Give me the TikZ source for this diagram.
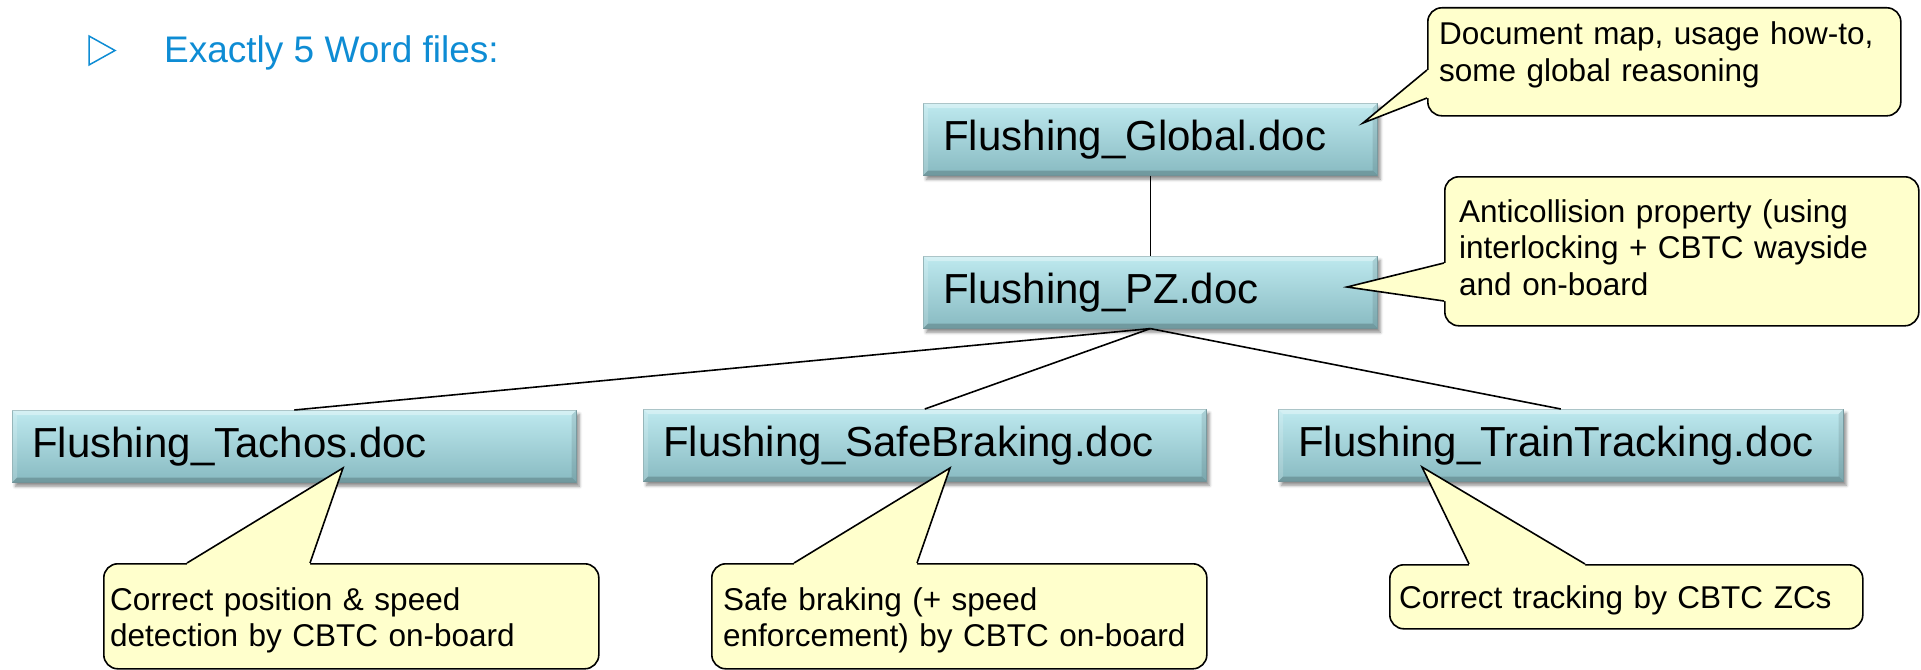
\documentclass[tikz,border=0pt]{standalone}
\usepackage{fontspec}
\setmainfont{Liberation Sans}
\usetikzlibrary{calc,shadows.blur}

\definecolor{headblue}{RGB}{14,140,212}
\definecolor{boxtop}{RGB}{190,233,239}
\definecolor{boxbot}{RGB}{136,186,193}
\definecolor{boxedge}{RGB}{128,166,172}
\definecolor{notefill}{RGB}{255,255,204}

\begin{document}
\begin{tikzpicture}[x=1pt,y=-1pt,
  docbox/.style={rectangle, anchor=north west, top color=boxtop, bottom color=boxbot,
    draw=boxedge, line width=0.6pt, inner xsep=20pt, inner ysep=0pt,
    minimum height=72pt, align=left, font=\fontsize{42}{48}\selectfont,
    blur shadow={shadow xshift=3pt, shadow yshift=-4pt, shadow blur radius=3pt, shadow opacity=45}},
  notebox/.style={rectangle, rounded corners=14pt, anchor=north west, fill=notefill,
    draw=black, line width=1.6pt, inner sep=0pt},
  notetext/.style={anchor=base west, inner sep=0pt, text width=470pt, align=left,
    font=\fontsize{31.5}{36.5}\selectfont},
  pointerline/.style={draw=black, line width=1.6pt, line join=miter},
  link/.style={draw=black, line width=1.6pt}]

\useasboundingbox (0,0) rectangle (1921,669);

% heading bullet and title
\draw[headblue, line width=1.5pt, line join=miter] (89,36) -- (115,50.5) -- (89,65) -- cycle;
\node[anchor=base west, inner sep=0pt, text=headblue, font=\fontsize{37}{41}\selectfont]
  (title) at (164,63) {Exactly 5 Word files:};

% document boxes
\node[docbox, text width=414pt] (glob)  at (923,103) {Flushing\_Global.doc};
\node[docbox, text width=414pt] (pz)    at (923,256) {Flushing\_PZ.doc};
\node[docbox, text width=524pt] (tach)  at (12,410)  {Flushing\_Tachos.doc};
\node[docbox, text width=523pt] (safe)  at (643,409) {Flushing\_SafeBraking.doc};
\node[docbox, text width=525pt] (trk)   at (1278,409) {Flushing\_TrainTracking.doc};

% bevelled edges of the boxes
\foreach \b in {glob,pz,tach,safe,trk} {
  \fill[white, opacity=0.35] (\b.north west) -- (\b.north east)
    -- ([xshift=-5pt,yshift=-5pt]\b.north east) -- ([xshift=5pt,yshift=-5pt]\b.north west) -- cycle;
  \fill[white, opacity=0.18] (\b.north west) -- ([xshift=5pt,yshift=-5pt]\b.north west)
    -- ([xshift=5pt,yshift=5pt]\b.south west) -- (\b.south west) -- cycle;
  \fill[black, opacity=0.10] (\b.north east) -- ([xshift=-5pt,yshift=-5pt]\b.north east)
    -- ([xshift=-5pt,yshift=5pt]\b.south east) -- (\b.south east) -- cycle;
  \fill[black, opacity=0.18] (\b.south west) -- ([xshift=5pt,yshift=5pt]\b.south west)
    -- ([xshift=-5pt,yshift=5pt]\b.south east) -- (\b.south east) -- cycle;
}

% tree connectors
\draw[link] (glob.south) -- (pz.north);
\draw[link] (pz.south) -- (tach.north);
\draw[link] (pz.south) -- (safe.north);
\draw[link] (pz.south) -- (trk.north);

% callout bodies
\node[notebox, minimum width=473pt, minimum height=108pt] (n1) at (1427,7) {};
\node[notebox, minimum width=474pt, minimum height=149pt] (n2) at (1444,176) {};
\node[notebox, minimum width=495pt, minimum height=105pt] (n3) at (103,563) {};
\node[notebox, minimum width=495pt, minimum height=105pt] (n4) at (711,563) {};
\node[notebox, minimum width=473pt, minimum height=64pt]  (n5) at (1389,564) {};

% callout pointers: name / tip / base a / base b / inward shift
\foreach \n/\tx/\ty/\ax/\ay/\bx/\by/\dx/\dy in {
  n1/1363/123/1427/70/1427/98/3/0,
  n2/1347/287/1444/263/1444/301/3/0,
  n3/343/468/187/563/310/563/0/3,
  n4/950/468/794/563/917/563/0/3,
  n5/1422/467/1469/564/1585/564/0/3} {
  \coordinate (\n-tip) at (\tx,\ty);
  \coordinate (\n-a) at (\ax,\ay);
  \coordinate (\n-b) at (\bx,\by);
  \fill[notefill] (\n-a) -- (\n-tip) -- (\n-b) -- ++(\dx,\dy) -- ($(\n-a)+(\dx,\dy)$) -- cycle;
  \draw[pointerline] (\n-a) -- (\n-tip) -- (\n-b);
}

% callout texts
\node[notetext] (n1text) at (1439,45) {Document map, usage how-to,\\some global reasoning};
\node[notetext] (n2text) at (1459,222) {Anticollision property (using\\interlocking + CBTC wayside\\and on-board};
\node[notetext] (n3text) at (110,610) {Correct position \& speed\\detection by CBTC on-board};
\node[notetext] (n4text) at (723,610) {Safe braking (+ speed\\enforcement) by CBTC on-board};
\node[notetext] (n5text) at (1399,608) {Correct tracking by CBTC ZCs};

\end{tikzpicture}
\end{document}
